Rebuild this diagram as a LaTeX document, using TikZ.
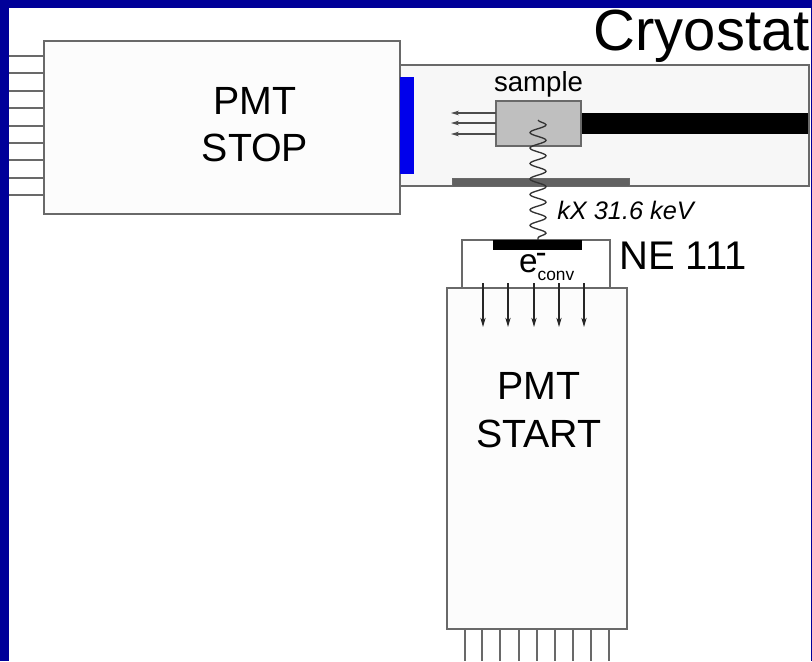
\documentclass[tikz,border=0pt]{standalone}
\usepackage{fontspec}
\setmainfont{Liberation Sans}
\usetikzlibrary{arrows.meta, positioning, calc, decorations.pathmorphing}
\definecolor{frameblue}{RGB}{0,0,153}
\definecolor{linegray}{RGB}{105,105,105}
\definecolor{paneblue}{RGB}{0,0,235}
\newcommand{\pxfont}[1]{\fontsize{#1}{#1}\selectfont}

\begin{document}
\begin{tikzpicture}[x=0.75pt, y=-0.75pt,
    box/.style={rectangle, draw=linegray, line width=1pt, fill=white, inner sep=0pt, outer sep=0pt},
    bar/.style={rectangle, inner sep=0pt, outer sep=0pt, fill=#1},
    lead/.style={draw=linegray, line width=1pt},
    caption/.style={inner sep=0pt, align=center}
]
\useasboundingbox (0,0) rectangle (812,661);
\fill[white] (0,0) rectangle (812,661);

% cryostat
\node[box, fill=black!3, minimum width=409*0.75pt, minimum height=121*0.75pt] (cryostat) at (604.5,125.5) {};
\node[bar=black, minimum width=227*0.75pt, minimum height=21*0.75pt] (rod) at (694.5,123.5) {};
\node[bar=black!62, draw=linegray, minimum width=177*0.75pt, minimum height=8*0.75pt] (window) at (540.5,182) {};
\node[box, fill=black!25, minimum width=85*0.75pt, minimum height=45*0.75pt] (sample) at (538.5,123.5) {};
\node[caption, font=\pxfont{20.7}, above=3pt of sample] (samplelabel) {sample};

% PMT stop
\node[box, fill=black!1, minimum width=356*0.75pt, minimum height=173*0.75pt] (stop) at (222,127.5) {};
\node[bar=paneblue, minimum width=14*0.75pt, minimum height=97*0.75pt] (pane) at (407,125.5) {};
\node[caption, font=\pxfont{29.5}] (stoplabel) at (255,124.5) {PMT\\[6pt]STOP};

% scintillator
\node[box, minimum width=148*0.75pt, minimum height=48*0.75pt] (ne) at (536,264) {};
\node[bar=black, minimum width=89*0.75pt, minimum height=10*0.75pt] (film) at (537.5,245) {};
\node[caption, font=\pxfont{30}, anchor=west] (nelabel) at (619,255.5) {NE 111};
\node[caption, font=\pxfont{25}] (econv) at (547,267) {e$^{\kern-1.5pt\raisebox{-2.5pt}{-}}_{\hbox{\pxfont{13}conv}}$};
\node[caption, font=\itshape\pxfont{19}, anchor=west] (kx) at (557,210) {kX 31.6 keV};

% PMT start
\node[box, fill=black!1, minimum width=180*0.75pt, minimum height=341*0.75pt] (start) at (537,458.5) {};
\node[caption, font=\pxfont{29.5}] (startlabel) at (539,410) {PMT\\[6pt]START};

% leads
\foreach \y [count=\i] in {56,73,91,108,126,143,160,178,195} {
    \coordinate (l\i) at (9,\y);
    \draw[lead] (stop.west |- l\i) -- (l\i);
}
\foreach \x [count=\i] in {465,482,500,519,537,555,573,591,609} {
    \coordinate (b\i) at (\x,661);
    \draw[lead] (start.south -| b\i) -- (b\i);
}

% arrows
\foreach \y [count=\i] in {113,123,134} {
    \coordinate (s\i) at (451,\y);
    \draw[-{Stealth[length=6pt,width=3.5pt]}, draw=black!70, line width=0.9pt] (sample.west |- s\i) -- (s\i);
}
\foreach \x [count=\i] in {483,508,534,559,584} {
    \coordinate (t\i) at (\x,283);
    \coordinate (e\i) at (\x,327);
    \draw[-{Stealth[length=7pt,width=4pt]}, draw=black!85, line width=0.9pt] (t\i) -- (e\i);
}

% kX quantum
\coordinate (wavestart) at (538,120);
\draw[black!80, line width=1pt, decorate, decoration={snake, segment length=11.6pt, amplitude=6pt}] (wavestart) -- (film.north -| wavestart);

% frame
\fill[frameblue] (0,0) rectangle (812,8);
\fill[frameblue] (0,0) rectangle (9,661);
\fill[frameblue] (811,0) rectangle (812,661);
\node[caption, font=\pxfont{43.5}, anchor=base east] (title) at (810,50.5) {Cryostat};
\end{tikzpicture}
\end{document}
